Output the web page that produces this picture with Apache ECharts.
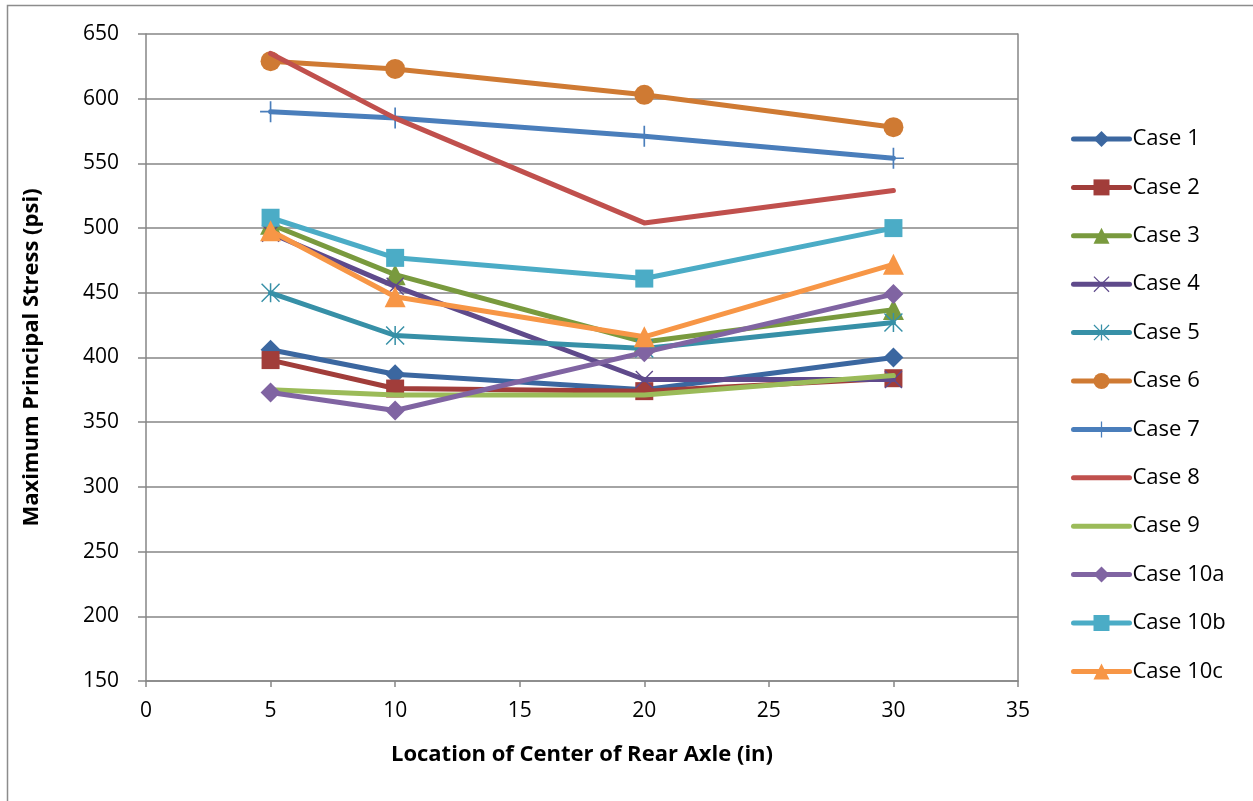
<!DOCTYPE html>
<html>
<head>
<meta charset="utf-8">
<script src="https://cdn.jsdelivr.net/npm/echarts@6/dist/echarts.min.js"></script>
<style>
  html, body { margin: 0; padding: 0; background: #ffffff; }
  #chart { width: 1253px; height: 801px; }
</style>
</head>
<body>
<div id="chart"></div>
<script>
// Axle positions (in) and maximum principal stress (psi) for each load case
const axlePositions = [5, 10, 20, 30];

const case1   = [406, 387, 375, 400];
const case2   = [398, 376, 374, 384];
const case3   = [503, 464, 412, 437];
const case4   = [496, 455, 383, 383];
const case5   = [450, 417, 407, 427];
const case6   = [629, 623, 603, 578];
const case7   = [590, 585, 571, 554];
const case8   = [635, 585, 504, 529];
const case9   = [375, 371, 371, 386];
const case10a = [373, 359, 404, 449];
const case10b = [508, 477, 461, 500];
const case10c = [498, 447, 416, 472];

const seriesNames = ['Case 1', 'Case 2', 'Case 3', 'Case 4', 'Case 5', 'Case 6',
                     'Case 7', 'Case 8', 'Case 9', 'Case 10a', 'Case 10b', 'Case 10c'];
const seriesValues = [case1, case2, case3, case4, case5, case6,
                      case7, case8, case9, case10a, case10b, case10c];

const xTicks = { min: 0, max: 35, interval: 5 };
const yTicks = { min: 150, max: 650, interval: 50 };

// Marker shapes
const plusPath = 'path://M9.2,0h1.6v20h-1.6z M0,9.2h20v1.6h-20z';
const crossPath = 'path://M1.1,0L10,8.9L18.9,0L20,1.1L11.1,10L20,18.9L18.9,20L10,11.1L1.1,20L0,18.9L8.9,10L0,1.1z';
const starPath = 'path://M1.1,0L10,8.9L18.9,0L20,1.1L11.1,10L20,18.9L18.9,20L10,11.1L1.1,20L0,18.9L8.9,10L0,1.1z M9.2,0h1.6v20h-1.6z';

const styles = [
  { color: '#3B67A0', symbol: 'diamond',  size: 20 },
  { color: '#A13D3A', symbol: 'rect',     size: 18 },
  { color: '#799A3E', symbol: 'triangle', size: 21 },
  { color: '#5F4A8B', symbol: crossPath,  size: 18 },
  { color: '#3790A7', symbol: starPath,   size: 19 },
  { color: '#CF7A33', symbol: 'circle',   size: 20 },
  { color: '#4A7EBB', symbol: plusPath,   size: 21 },
  { color: '#C0504D', symbol: 'none',     size: 0 },
  { color: '#9BBB59', symbol: 'none',     size: 0 },
  { color: '#8064A2', symbol: 'diamond',  size: 20 },
  { color: '#4BACC6', symbol: 'rect',     size: 18 },
  { color: '#F79646', symbol: 'triangle', size: 21 }
];

const FONT = '"Open Sans", "Liberation Sans", sans-serif';

const series = seriesNames.map((name, i) => ({
  name: name,
  type: 'line',
  data: axlePositions.map((x, j) => [x, seriesValues[i][j]]),
  symbol: styles[i].symbol,
  symbolSize: styles[i].size,
  showSymbol: styles[i].symbol !== 'none',
  z: 2 + i,
  lineStyle: { color: styles[i].color, width: 5, cap: 'round', join: 'round' },
  itemStyle: { color: styles[i].color, borderWidth: 0 },
  emphasis: { disabled: true },
  animation: false
}));

// Legend entries: lines without markers hide the legend symbol
const legendData = seriesNames.map((name, i) =>
  styles[i].symbol === 'none' ? { name: name, itemStyle: { opacity: 0 } } : { name: name }
);

const chart = echarts.init(document.getElementById('chart'), null, { renderer: 'canvas' });

chart.setOption({
  backgroundColor: '#ffffff',
  animation: false,
  graphic: [{
    type: 'rect',
    shape: { x: 7.5, y: 5.5, width: 1250, height: 820 },
    style: { fill: 'none', stroke: '#8C8C8C', lineWidth: 1.5 },
    silent: true,
    z: -10
  }],
  grid: { left: 146, top: 34, right: 235, bottom: 120, containLabel: false },
  legend: {
    orient: 'vertical',
    left: 1071,
    top: 128,
    padding: 0,
    itemWidth: 56,
    itemHeight: 20,
    itemGap: 26.4,
    lineStyle: { width: 5, cap: 'round' },
    textStyle: { fontFamily: FONT, fontSize: 22, lineHeight: 20, color: '#000000', padding: [0, 0, 0, -2] },
    data: legendData
  },
  xAxis: {
    type: 'value',
    min: xTicks.min,
    max: xTicks.max,
    interval: xTicks.interval,
    name: 'Location of Center of Rear Axle (in)',
    nameLocation: 'middle',
    nameGap: 63,
    nameTextStyle: { fontFamily: FONT, fontSize: 22, fontWeight: 'bold', color: '#000000' },
    axisLine: { show: true, onZero: false, lineStyle: { color: '#868686', width: 1.5 } },
    axisTick: { show: true, length: 6, lineStyle: { color: '#868686', width: 1.5 } },
    axisLabel: { fontFamily: FONT, fontSize: 21, color: '#000000', margin: 20 },
    splitLine: { show: false }
  },
  yAxis: [{
    type: 'value',
    min: yTicks.min,
    max: yTicks.max,
    interval: yTicks.interval,
    name: 'Maximum Principal Stress (psi)',
    nameLocation: 'middle',
    nameGap: 103,
    nameTextStyle: { fontFamily: FONT, fontSize: 22, fontWeight: 'bold', color: '#000000' },
    axisLine: { show: true, onZero: false, lineStyle: { color: '#868686', width: 1.5 } },
    axisTick: { show: true, length: 8, lineStyle: { color: '#868686', width: 1.5 } },
    axisLabel: { fontFamily: FONT, fontSize: 21, color: '#000000', margin: 27 },
    splitLine: { show: true, lineStyle: { color: '#868686', width: 1.5 } }
  }, {
    // right edge of the plot area
    type: 'value',
    position: 'right',
    min: yTicks.min,
    max: yTicks.max,
    interval: yTicks.interval,
    axisLine: { show: true, onZero: false, lineStyle: { color: '#868686', width: 1.5 } },
    axisTick: { show: false },
    axisLabel: { show: false },
    splitLine: { show: false }
  }],
  series: series
});
</script>
</body>
</html>
